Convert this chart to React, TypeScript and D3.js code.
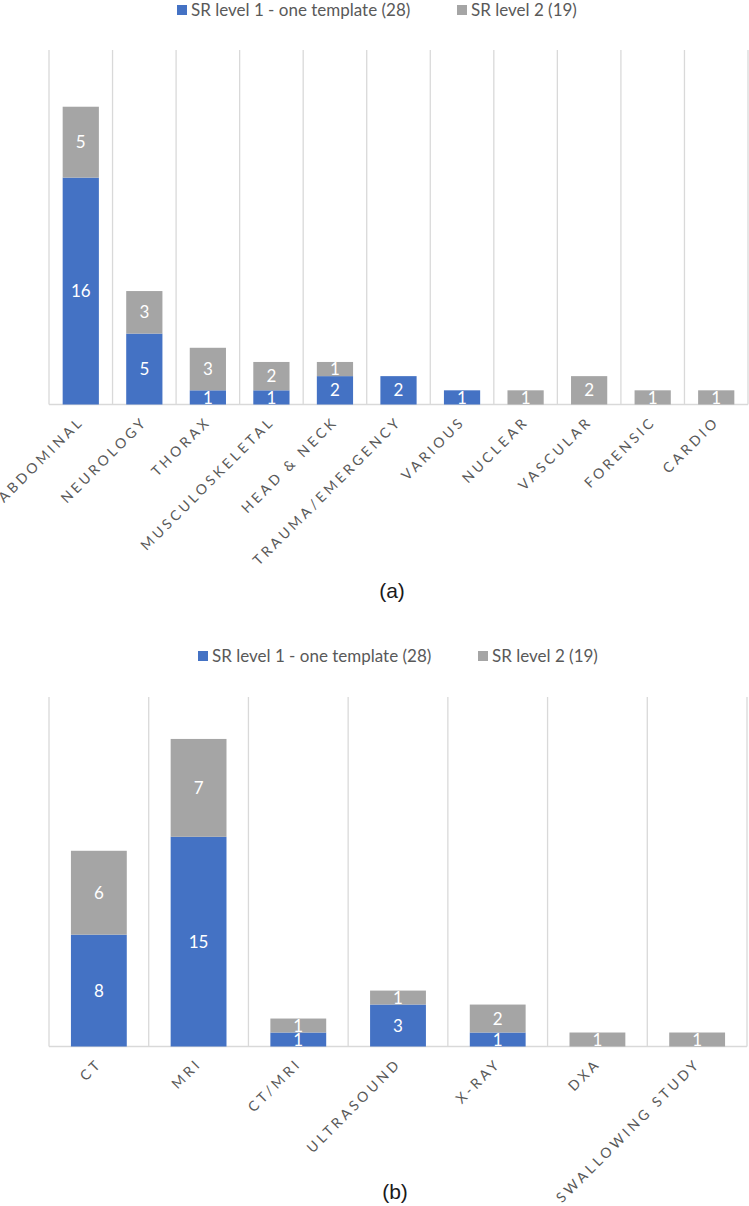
import React from "react";
import * as d3 from "d3";

// ---- Data: chart (a) by subspecialty ----
const catsA = ["ABDOMINAL", "NEUROLOGY", "THORAX", "MUSCULOSKELETAL", "HEAD & NECK", "TRAUMA/EMERGENCY", "VARIOUS", "NUCLEAR", "VASCULAR", "FORENSIC", "CARDIO"];
const level1A = [16, 5, 1, 1, 2, 2, 1, 0, 0, 0, 0];
const level2A = [5, 3, 3, 2, 1, 0, 0, 1, 2, 1, 1];

// ---- Data: chart (b) by modality ----
const catsB = ["CT", "MRI", "CT/MRI", "ULTRASOUND", "X-RAY", "DXA", "SWALLOWING STUDY"];
const level1B = [8, 15, 1, 3, 1, 0, 0];
const level2B = [6, 7, 1, 1, 2, 1, 1];

const seriesNames = ["SR level 1 - one template (28)", "SR level 2 (19)"];
const yMax = 25;

const BLUE = "#4472C4";
const GRAY = "#A5A5A5";
const GRID = "#D9D9D9";
const TEXT = "#595959";
const FONT = "Lato, 'Open Sans', sans-serif";

type PanelProps = {
  cats: string[];
  s1: number[];
  s2: number[];
  x0: number;
  x1: number;
  yTop: number;
  yBase: number;
  barFrac: number;
  legend: { sq1: number; sq2: number; y: number };
  tag: string;
  tagX: number;
  tagY: number;
};

function Panel({ cats, s1, s2, x0, x1, yTop, yBase, barFrac, legend, tag, tagX, tagY }: PanelProps) {
  const x = d3.scaleBand<string>().domain(cats).range([x0, x1]).padding(0);
  const y = d3.scaleLinear().domain([0, yMax]).range([yBase, yTop]);
  const bw = x.bandwidth() * barFrac;
  const rows = cats.map((c, i) => ({ cat: c, a: s1[i], b: s2[i] }));
  const stack = d3.stack<any>().keys(["a", "b"])(rows);
  const colors = [BLUE, GRAY];
  const gridXs = cats.map((c) => x(c)!).concat([x1]);

  return (
    <g>
      {/* legend */}
      <rect x={legend.sq1} y={legend.y - 5} width={10} height={10} fill={BLUE} />
      <text x={legend.sq1 + 14} y={legend.y} dy="0.35em" fontFamily={FONT} fontSize={17} fill={TEXT}>{seriesNames[0]}</text>
      <rect x={legend.sq2} y={legend.y - 5} width={10} height={10} fill={GRAY} />
      <text x={legend.sq2 + 14} y={legend.y} dy="0.35em" fontFamily={FONT} fontSize={17} fill={TEXT}>{seriesNames[1]}</text>

      {/* vertical gridlines */}
      {gridXs.map((gx, i) => (
        <line key={i} x1={gx} x2={gx} y1={yTop} y2={yBase} stroke={GRID} strokeWidth={1.3} />
      ))}
      <line x1={x0} x2={x1} y1={yBase} y2={yBase} stroke={GRID} strokeWidth={1.3} />

      {/* bars */}
      {stack.map((layer, li) =>
        layer.map((d, i) => {
          const v = d[1] - d[0];
          if (v <= 0) return null;
          const cx = x(cats[i])! + x.bandwidth() / 2;
          const top = y(d[1]);
          const bot = y(d[0]);
          return (
            <g key={`${li}-${i}`}>
              <rect x={cx - bw / 2} y={top} width={bw} height={bot - top} fill={colors[li]} />
              <text x={cx} y={(top + bot) / 2} dy="0.36em" textAnchor="middle" fontFamily={FONT} fontSize={17} fill="#FFFFFF">{v}</text>
            </g>
          );
        })
      )}

      {/* category labels */}
      {cats.map((c) => {
        const cx = x(c)! + x.bandwidth() / 2 + 4;
        const cy = yBase + 18;
        return (
          <text key={c} transform={`translate(${cx},${cy}) rotate(-45)`} textAnchor="end" fontFamily={FONT} fontSize={14} letterSpacing={3.3} fill={TEXT}>{c}</text>
        );
      })}

      <text x={tagX} y={tagY} textAnchor="middle" fontFamily="'Liberation Sans', Arial, sans-serif" fontSize={21} fill="#1a1a1a">{tag}</text>
    </g>
  );
}

export default function App() {
  return (
    <div style={{ position: "absolute", left: 0, top: 0 }}>
      <svg width={749} height={1206} style={{ display: "block", background: "#ffffff" }}>
        <Panel cats={catsA} s1={level1A} s2={level2A} x0={49} x1={748} yTop={50} yBase={404.5} barFrac={0.57}
          legend={{ sq1: 177, sq2: 457, y: 10 }} tag="(a)" tagX={392} tagY={598} />
        <Panel cats={catsB} s1={level1B} s2={level2B} x0={49} x1={747} yTop={697} yBase={1046.5} barFrac={0.56}
          legend={{ sq1: 198, sq2: 478, y: 656 }} tag="(b)" tagX={395} tagY={1199} />
      </svg>
    </div>
  );
}
